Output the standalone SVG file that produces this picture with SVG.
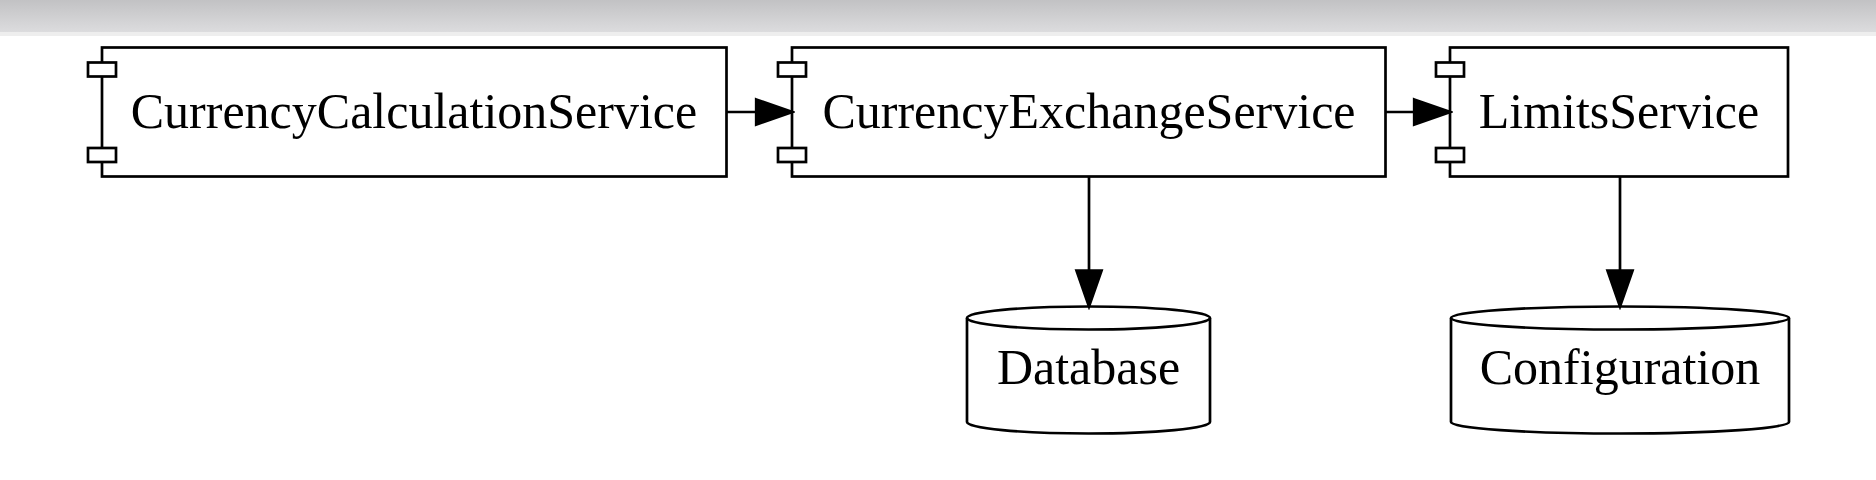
<svg xmlns="http://www.w3.org/2000/svg" width="1876" height="480" viewBox="0 0 1876 480">
<defs>
<linearGradient id="band" x1="0" y1="0" x2="0" y2="1">
<stop offset="0" stop-color="#c2c2c4"/>
<stop offset="1" stop-color="#dcdcde"/>
</linearGradient>
<marker id="arrow" markerUnits="userSpaceOnUse" viewBox="-3 -16 42 32" refX="35.8" refY="0" markerWidth="42" markerHeight="32" orient="auto">
<path d="M0,-12.5 L35.8,0 L0,12.5 Z" fill="#000" stroke="#000" stroke-width="2.7"/>
</marker>
</defs>
<style>
.shape{fill:#fff;stroke:#000;stroke-width:2.7}
.port{fill:#fff;stroke:#000;stroke-width:2.7}
.edge{fill:none;stroke:#000;stroke-width:2.7}
.label{font-family:"Liberation Serif","Times New Roman",serif;font-size:50px;fill:#000;text-anchor:middle}
</style>
<rect x="0" y="0" width="1876" height="32" fill="url(#band)"/>
<rect x="0" y="32" width="1876" height="4" fill="#eeeeee"/>
<rect x="0" y="36" width="1876" height="444" fill="#ffffff"/>

<g id="CurrencyCalculationService">
<rect class="shape" x="102" y="47.5" width="624.5" height="129"/>
<rect class="port" x="88" y="62.5" width="28" height="14"/>
<rect class="port" x="88" y="148" width="28" height="14"/>
<text class="label" x="414" y="127.5">CurrencyCalculationService</text>
</g>

<g id="CurrencyExchangeService">
<rect class="shape" x="792" y="47.5" width="593.5" height="129"/>
<rect class="port" x="778" y="62.5" width="28" height="14"/>
<rect class="port" x="778" y="148" width="28" height="14"/>
<text class="label" x="1089" y="127.5">CurrencyExchangeService</text>
</g>

<g id="LimitsService">
<rect class="shape" x="1450" y="47.5" width="338" height="129"/>
<rect class="port" x="1436" y="62.5" width="28" height="14"/>
<rect class="port" x="1436" y="148" width="28" height="14"/>
<text class="label" x="1619" y="127.5">LimitsService</text>
</g>

<g id="Database">
<path class="shape" d="M967,318 A121.5,11.5 0 0 1 1210,318 L1210,422 A121.5,11.5 0 0 1 967,422 Z"/>
<path class="edge" d="M967,318 A121.5,11.5 0 0 0 1210,318"/>
<text class="label" x="1088.5" y="384">Database</text>
</g>

<g id="Configuration">
<path class="shape" d="M1451,318 A169,11.5 0 0 1 1789,318 L1789,422 A169,11.5 0 0 1 1451,422 Z"/>
<path class="edge" d="M1451,318 A169,11.5 0 0 0 1789,318"/>
<text class="label" x="1620" y="384">Configuration</text>
</g>

<g id="connectors">
<line class="edge" x1="726.5" y1="112" x2="792" y2="112" marker-end="url(#arrow)"/>
<line class="edge" x1="1385.5" y1="112" x2="1450" y2="112" marker-end="url(#arrow)"/>
<line class="edge" x1="1089" y1="176.5" x2="1089" y2="306.5" marker-end="url(#arrow)"/>
<line class="edge" x1="1620" y1="176.5" x2="1620" y2="306.5" marker-end="url(#arrow)"/>
</g>
</svg>
